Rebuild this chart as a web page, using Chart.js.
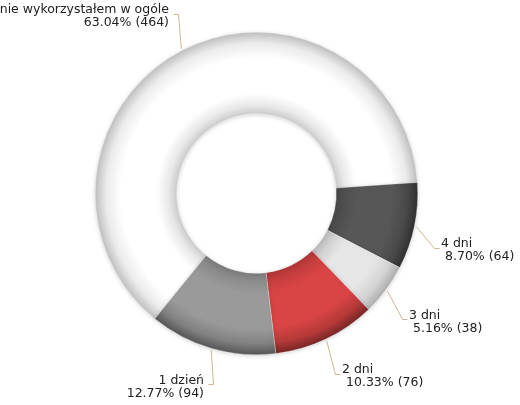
<!DOCTYPE html>
<html>
<head>
<meta charset="utf-8">
<script src="https://cdn.jsdelivr.net/npm/chart.js@4/dist/chart.umd.min.js"></script>
<style>
  html, body { margin: 0; padding: 0; background: #fff; }
  #wrap { position: relative; width: 520px; height: 405px; }
</style>
</head>
<body>
<div id="wrap"><canvas id="donut" width="520" height="405"></canvas></div>
<script>
'use strict';

/* global Chart */

// data
const CATEGORIES = ['nie wykorzystałem w ogóle', '4 dni', '3 dni', '2 dni', '1 dzień'];
const COUNTS     = [464, 64, 38, 76, 94];
const COLORS     = ['#ffffff', '#575757', '#e6e6e6', '#d94444', '#9a9a9a'];

// label layout: elbow of the leader line, tick direction, text anchor, baselines
const LABEL_POS = [
  { ex: 178, ey: 14,  dir: -1, tx: 169, y1: 13,  y2: 26,  indent: 0 },
  { ex: 434, ey: 248, dir: 1,  tx: 441, y1: 247, y2: 260, indent: 4 },
  { ex: 402, ey: 319, dir: 1,  tx: 409, y1: 319, y2: 332, indent: 4 },
  { ex: 335, ey: 374, dir: 1,  tx: 342, y1: 373, y2: 386, indent: 4 },
  { ex: 213, ey: 384, dir: -1, tx: 204, y1: 384, y2: 397, indent: 0 },
];

const TOTAL = COUNTS.reduce((a, b) => a + b, 0);
const CUTOUT = 0.495;

function _shade(hex, f) {
  const n = parseInt(hex.slice(1), 16);
  const r = Math.round(((n >> 16) & 255) * f);
  const g = Math.round(((n >> 8) & 255) * f);
  const b = Math.round((n & 255) * f);
  return `rgb(${r},${g},${b})`;
}

// ring shading: darker towards both edges
function _ringFill(ctx) {
  const chart = ctx.chart;
  const base = COLORS[ctx.dataIndex];
  const area = chart.chartArea;
  if (!area) return base;
  const cx = (area.left + area.right) / 2;
  const cy = (area.top + area.bottom) / 2;
  const outer = Math.min(area.right - area.left, area.bottom - area.top) / 2;
  const inner = outer * CUTOUT;
  const g = chart.ctx.createRadialGradient(cx, cy, inner, cx, cy, outer);
  const light = base === '#ffffff' || base === '#e6e6e6';
  g.addColorStop(0.00, _shade(base, 0.80));
  g.addColorStop(0.10, _shade(base, 0.91));
  g.addColorStop(0.25, _shade(base, 1));
  g.addColorStop(0.68, _shade(base, 1));
  g.addColorStop(0.86, _shade(base, light ? 0.92 : 0.84));
  g.addColorStop(1.00, _shade(base, light ? 0.75 : 0.55));
  return g;
}

// soft shadow under the ring
const ringShadow = {
  id: 'ringShadow',
  beforeDatasetsDraw(chart) {
    const ctx = chart.ctx;
    ctx.save();
    ctx.shadowColor = 'rgba(0,0,0,0.18)';
    ctx.shadowBlur = 4;
    ctx.shadowOffsetY = 1;
  },
  afterDatasetsDraw(chart) {
    chart.ctx.restore();
  }
};

const leaderLabels = {
  id: 'leaderLabels',
  afterDatasetsDraw(chart) {
    const ctx = chart.ctx;
    const arcs = chart.getDatasetMeta(0).data;
    ctx.save();
    ctx.font = '12.5px "DejaVu Sans", Verdana, sans-serif';
    ctx.textBaseline = 'alphabetic';
    arcs.forEach((arc, i) => {
      const p = LABEL_POS[i];
      const { x, y, startAngle, endAngle, outerRadius } = arc.getProps(['x', 'y', 'startAngle', 'endAngle', 'outerRadius'], true);
      const mid = (startAngle + endAngle) / 2;
      const sx = x + Math.cos(mid) * (outerRadius + 2);
      const sy = y + Math.sin(mid) * (outerRadius + 2);
      ctx.strokeStyle = '#cbb894';
      ctx.lineWidth = 1;
      ctx.beginPath();
      ctx.moveTo(sx, sy);
      ctx.lineTo(p.ex + 0.5, p.ey + 0.5);
      ctx.lineTo(p.ex + p.dir * 5 + 0.5, p.ey + 0.5);
      ctx.stroke();

      const pct = (COUNTS[i] / TOTAL * 100).toFixed(2) + '% (' + COUNTS[i] + ')';
      ctx.fillStyle = '#222';
      ctx.textAlign = p.dir < 0 ? 'right' : 'left';
      ctx.fillText(CATEGORIES[i], p.tx, p.y1);
      ctx.fillText(pct, p.tx + p.indent, p.y2);
    });
    ctx.restore();
  }
};

new Chart(document.getElementById('donut'), {
  type: 'doughnut',
  data: {
    labels: CATEGORIES,
    datasets: [{
      data: COUNTS,
      backgroundColor: _ringFill,
      borderWidth: 0.5,
      borderColor: 'rgba(255,255,255,0.6)',
    }]
  },
  options: {
    responsive: false, animation: false,
    devicePixelRatio: 1,
    rotation: -140.9,
    cutout: (CUTOUT * 100) + '%',
    layout: { padding: { top: 32, bottom: 50, left: 95, right: 102 } },
    plugins: { legend: { display: false }, tooltip: { enabled: false } }
  },
  plugins: [ringShadow, leaderLabels]
});
</script>
</body>
</html>
